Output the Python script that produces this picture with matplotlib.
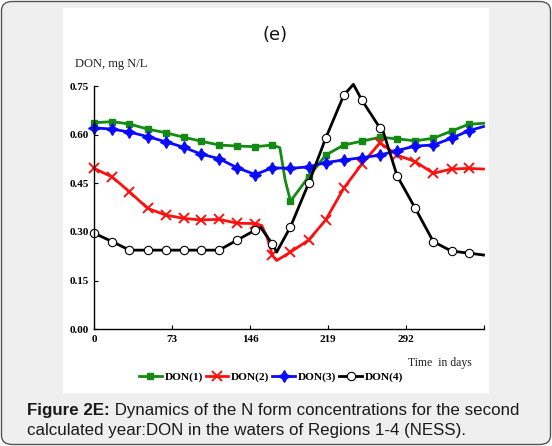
import matplotlib
matplotlib.use("Agg")
import matplotlib.pyplot as plt
from matplotlib.patches import FancyBboxPatch, Rectangle
import numpy as np

# ---------------- data ----------------
marker_days = [0, 17, 33, 50, 67, 84, 100, 117, 134, 151, 167, 184, 201, 217,
               234, 251, 268, 284, 301, 318, 335, 351]
end_day = 365

don1_values = [0.637, 0.640, 0.633, 0.617, 0.606, 0.592, 0.580, 0.568, 0.565, 0.563,
               0.568, 0.395, 0.470, 0.537, 0.568, 0.580, 0.592, 0.587, 0.581, 0.589,
               0.611, 0.632]
don1_end = 0.635
don1_extra_days = [174, 179]
don1_extra_values = [0.560, 0.460]

don2_values = [0.496, 0.469, 0.424, 0.373, 0.352, 0.342, 0.337, 0.339, 0.327, 0.326,
               0.228, 0.238, 0.275, 0.337, 0.435, 0.510, 0.575, 0.537, 0.517, 0.481,
               0.494, 0.496]
don2_end = 0.494
don2_extra_days = [157, 162, 171]
don2_extra_values = [0.320, 0.285, 0.212]

don3_values = [0.621, 0.617, 0.608, 0.594, 0.578, 0.561, 0.540, 0.526, 0.498, 0.477,
               0.498, 0.496, 0.501, 0.514, 0.522, 0.529, 0.537, 0.551, 0.565, 0.568,
               0.589, 0.612]
don3_end = 0.625
don3_extra_days = []
don3_extra_values = []

don4_values = [0.296, 0.270, 0.244, 0.244, 0.244, 0.244, 0.244, 0.244, 0.275, 0.306,
               0.263, 0.316, 0.450, 0.589, 0.722, 0.706, 0.620, 0.473, 0.373, 0.270,
               0.241, 0.235]
don4_end = 0.229
don4_extra_days = [156, 171, 243, 271]
don4_extra_values = [0.314, 0.238, 0.755, 0.609]

series_labels = ["DON(1)", "DON(2)", "DON(3)", "DON(4)"]
x_ticks = [0, 73, 146, 219, 292, 365]
x_tick_labels = ["0", "73", "146", "219", "292", ""]
y_ticks = [0.00, 0.15, 0.30, 0.45, 0.60, 0.75]
y_tick_labels = ["0.00", "0.15", "0.30", "0.45", "0.60", "0.75"]

title_text = "(e)"
ylabel_text = "DON, mg N/L"
xlabel_text = "Time  in days"
caption_bold = "Figure 2E:"
caption_rest1 = " Dynamics of the N form concentrations for the second"
caption_line2 = "calculated year:DON in the waters of Regions 1-4 (NESS)."


def build(values, end, ex_days, ex_values):
    d = list(marker_days) + [end_day] + list(ex_days)
    v = list(values) + [end] + list(ex_values)
    is_marker = [True] * len(marker_days) + [False] + [False] * len(ex_days)
    order = np.argsort(d, kind="stable")
    d = np.array(d)[order]
    v = np.array(v)[order]
    m = np.array(is_marker)[order]
    return d, v, m


# ---------------- figure ----------------
W, H = 552, 446
fig = plt.figure(figsize=(W / 100, H / 100), dpi=100)
fig.patch.set_facecolor("white")

# outer rounded frame
frame = FancyBboxPatch((1.5 / W, 1.5 / H), (W - 3) / W, (H - 3) / H,
                       boxstyle="round,pad=0,rounding_size=0.02",
                       transform=fig.transFigure, facecolor="#efefef",
                       edgecolor="#555555", linewidth=1.0, zorder=-2)
fig.patches.append(frame)
panel = Rectangle((63 / W, (H - 393) / H), (489 - 63) / W, (393 - 8) / H,
                  transform=fig.transFigure, facecolor="white",
                  edgecolor="none", zorder=-1)
fig.patches.append(panel)

ax = fig.add_axes([94.3 / W, (H - 329.3) / H, 389.2 / W, 243.3 / H])
ax.set_facecolor("none")
ax.set_zorder(2)

serif = "Liberation Serif"
lw = 2.0

styles = [
    dict(color="#138a13", marker="s", markersize=5.0, markerfacecolor="#138a13",
         markeredgecolor="#138a13"),
    dict(color="#ff1010", marker="x", markersize=6.5, markeredgewidth=1.4,
         markerfacecolor="#ff1010", markeredgecolor="#ff1010"),
    dict(color="#0a0aff", marker=(4, 1, 0), markersize=8.5, markerfacecolor="#0a0aff",
         markeredgecolor="#0a0aff"),
    dict(color="black", marker="o", markersize=6.0, markerfacecolor="white",
         markeredgecolor="black", markeredgewidth=0.8),
]
data = [
    build(don1_values, don1_end, don1_extra_days, don1_extra_values),
    build(don2_values, don2_end, don2_extra_days, don2_extra_values),
    build(don3_values, don3_end, don3_extra_days, don3_extra_values),
    build(don4_values, don4_end, don4_extra_days, don4_extra_values),
]

handles = []
for (d, v, m), st, lab in zip(data, styles, series_labels):
    h, = ax.plot(d, v, linewidth=lw, markevery=list(np.where(m)[0]),
                 label=lab, clip_on=False, solid_joinstyle="round", **st)
    handles.append(h)

ax.set_xlim(0, 365)
ax.set_ylim(0, 0.75)
for s in ["top", "right"]:
    ax.spines[s].set_visible(False)
for s in ["left", "bottom"]:
    ax.spines[s].set_linewidth(1.0)
    ax.spines[s].set_color("black")

ax.set_xticks(x_ticks)
ax.set_xticklabels(x_tick_labels)
ax.set_yticks(y_ticks)
ax.set_yticklabels(y_tick_labels)
ax.tick_params(direction="in", length=3, width=0.8, pad=4)
for t in ax.get_xticklabels() + ax.get_yticklabels():
    t.set_fontfamily(serif)
    t.set_fontweight("bold")
    t.set_fontsize(8)

# texts
fig.text(275 / W, (H - 35) / H, title_text, ha="center", va="center",
         fontsize=13, family="DejaVu Sans", color="#111111")
fig.text(75 / W, (H - 64) / H, ylabel_text, ha="left", va="center",
         fontsize=9, family=serif, color="#222222")
fig.text(408 / W, (H - 363) / H, xlabel_text, ha="left", va="center",
         fontsize=8.5, family=serif, color="#222222")

leg = fig.legend(handles=handles, loc="center",
                 bbox_to_anchor=(271 / W, (H - 377) / H), ncol=4, frameon=False,
                 handlelength=2.0, handletextpad=0.25, columnspacing=0.25,
                 prop=dict(family=serif, weight="bold", size=8.2),
                 borderaxespad=0, borderpad=0)

# caption
cap_font = dict(family="Liberation Sans", size=12.2, color="#1a1a1a")
t1 = fig.text(27 / W, (H - 410) / H, caption_bold, ha="left", va="center",
              weight="bold", **cap_font)
fig.canvas.draw()
bb = t1.get_window_extent(renderer=fig.canvas.get_renderer())
x_after = bb.x1 / (W)
fig.text(x_after, (H - 410) / H, caption_rest1, ha="left", va="center", **cap_font)
fig.text(27 / W, (H - 431) / H, caption_line2, ha="left", va="center", **cap_font)

fig.savefig("out.png", dpi=100, facecolor=fig.get_facecolor())
